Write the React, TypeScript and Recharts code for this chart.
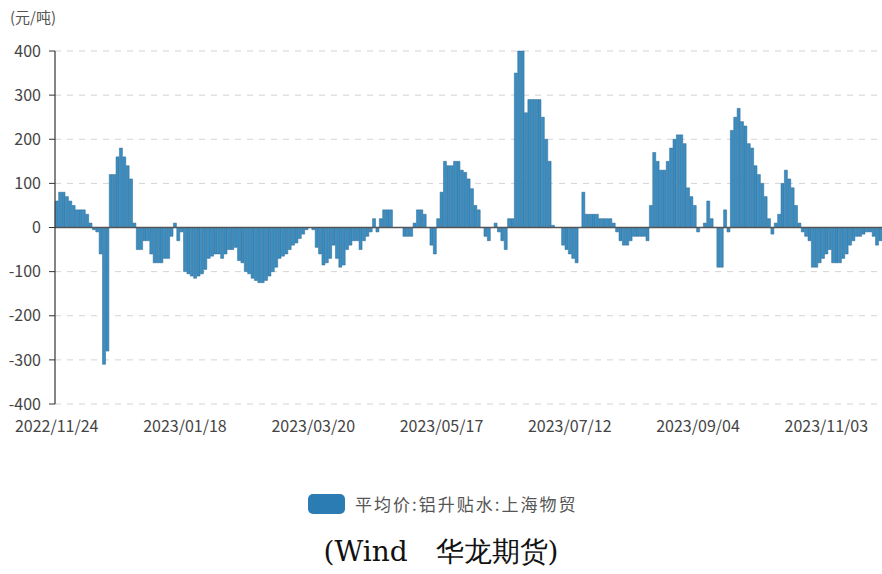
import { Bar, BarChart, CartesianGrid, ReferenceLine, XAxis, YAxis } from "recharts";

// 平均价:铝升贴水:上海物贸, 2022/11/24 起的交易日序列 (元/吨)
const premium: number[] = [
  60, 80, 80, 70, 60, 50, 40, 40, 40, 30,
  10, -5, -10, -60, -310, -280, 120, 120, 160, 180,
  160, 140, 110, 10, -50, -50, -30, -30, -60, -80,
  -80, -80, -70, -70, -20, 10, -30, -10, -100, -105,
  -110, -115, -110, -105, -95, -70, -65, -60, -60, -70,
  -60, -50, -50, -45, -75, -80, -100, -105, -115, -120,
  -125, -125, -120, -110, -100, -90, -70, -65, -60, -50,
  -40, -35, -25, -15, -5, 0, -5, -45, -60, -85,
  -80, -70, -40, -70, -90, -85, -50, -40, -30, -30,
  -50, -30, -20, -10, 20, -10, 20, 40, 40, 40,
  0, 0, 0, -20, -20, -20, 10, 40, 40, 30,
  0, -40, -60, 20, 80, 150, 140, 140, 150, 150,
  130, 125, 110, 88, 50, 40, 0, -20, -30, 0,
  10, -10, -30, -50, 20, 20, 350, 400, 400, 260,
  290, 290, 290, 290, 250, 200, 150, 5, 0, 0,
  -40, -50, -60, -70, -80, 0, 80, 30, 30, 30,
  30, 20, 20, 20, 20, 10, -10, -30, -40, -40,
  -30, -20, -20, -20, -20, -30, 50, 170, 150, 130,
  130, 150, 180, 200, 210, 210, 190, 90, 70, 50,
  -10, 0, 10, 60, 20, 0, -90, -90, 40, -10,
  220, 250, 270, 240, 230, 190, 180, 140, 120, 100,
  70, 20, -15, 10, 30, 100, 130, 110, 90, 50,
  10, -10, -20, -30, -90, -90, -80, -70, -60, -50,
  -80, -80, -80, -70, -60, -40, -30, -20, -20, -15,
  -10, -10, -20, -40, -30,
];

const tickIndex = [0, 38, 76, 114, 152, 190, 228];
const tickLabels = [
  "2022/11/24",
  "2023/01/18",
  "2023/03/20",
  "2023/05/17",
  "2023/07/12",
  "2023/09/04",
  "2023/11/03",
];
const yTicks = [-400, -300, -200, -100, 0, 100, 200, 300, 400];

const seriesName = "平均价:铝升贴水:上海物贸";
const font = '"Noto Sans CJK SC", "Noto Sans", sans-serif';

const data = premium.map((v, i) => ({ i, v }));

export default function App() {
  return (
    <div
      style={{
        position: "absolute",
        left: 0,
        top: 0,
        width: 882,
        height: 574,
        background: "#fff",
        overflow: "hidden",
      }}
    >
      <div
        style={{
          position: "absolute",
          left: 10,
          top: 6,
          fontFamily: font,
          fontSize: 15,
          color: "#555",
        }}
      >
        (元/吨)
      </div>
      <BarChart
        width={882}
        height={440}
        data={data}
        margin={{ top: 51, right: 0, left: 0, bottom: 0 }}
        barCategoryGap="8%"
      >
        <CartesianGrid
          vertical={false}
          stroke="#d4d4d4"
          strokeDasharray="6 6"
        />
        <XAxis
          dataKey="i"
          type="category"
          ticks={tickIndex}
          interval={0}
          tickFormatter={(i: number) => tickLabels[tickIndex.indexOf(i)] ?? ""}
          axisLine={false}
          tickLine={false}
          height={36}
          tickMargin={11}
          tick={{ fill: "#444", fontSize: 16, fontFamily: font }}
        />
        <YAxis
          domain={[-400, 400]}
          ticks={yTicks}
          interval={0}
          width={55}
          tickSize={6}
          tickMargin={8}
          axisLine={{ stroke: "#333", strokeWidth: 1.2 }}
          tickLine={{ stroke: "#333" }}
          tick={{ fill: "#444", fontSize: 16, fontFamily: font }}
        />
        <Bar
          dataKey="v"
          fill="#3b8ec2"
          stroke="#2a6791"
          strokeWidth={0.5}
          isAnimationActive={false}
        />
        <ReferenceLine y={0} stroke="#555" strokeWidth={1.5} />
      </BarChart>
      <div
        style={{
          position: "absolute",
          left: 308,
          top: 494,
          width: 37,
          height: 20,
          borderRadius: 5,
          background: "#2b7cb2",
        }}
      />
      <div
        style={{
          position: "absolute",
          left: 355,
          top: 492,
          fontFamily: font,
          fontSize: 17,
          letterSpacing: 2,
          lineHeight: "24px",
          color: "#555",
        }}
      >
        {seriesName}
      </div>
      <div
        style={{
          position: "absolute",
          left: 0,
          width: 882,
          top: 534,
          textAlign: "center",
          fontFamily: '"DejaVu Serif", "Liberation Serif", serif',
          fontSize: 28,
          lineHeight: "36px",
          color: "#111",
        }}
      >
        (Wind　华龙期货)
      </div>
    </div>
  );
}
